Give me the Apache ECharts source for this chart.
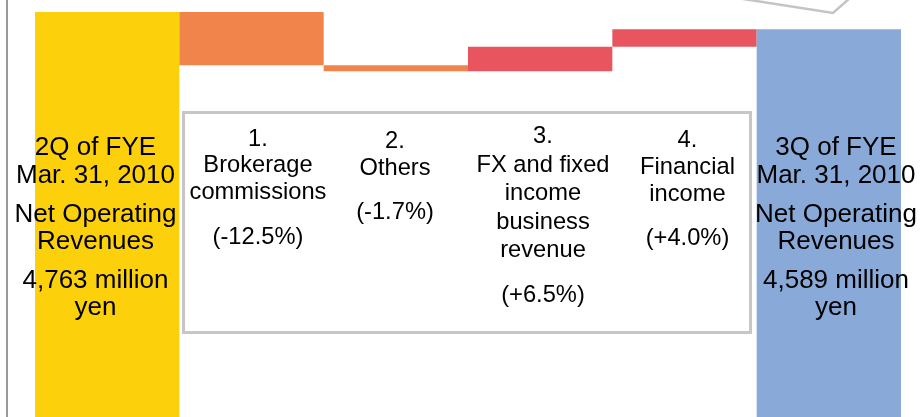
<!DOCTYPE html>
<html>
<head>
<meta charset="utf-8">
<script src="https://cdn.jsdelivr.net/npm/echarts@6/dist/echarts.min.js"></script>
<style>
html,body{margin:0;padding:0;background:#fff;}
#c{width:922px;height:417px;}
</style>
</head>
<body>
<div id="c"></div>
<script>
// ---- data ----
const categories = ['2Q of FYE Mar. 31, 2010', 'Brokerage commissions', 'Others', 'FX and fixed income business revenue', 'Financial income', '3Q of FYE Mar. 31, 2010'];
const startValue = 4763;
const changeValues = [-535, -60, 245, 176];
const endValue = 4589;
const startLabel = ['2Q of FYE', 'Mar. 31, 2010', 'Net Operating', 'Revenues', '4,763 million', 'yen'];
const endLabel = ['3Q of FYE', 'Mar. 31, 2010', 'Net Operating', 'Revenues', '4,589 million', 'yen'];
const itemLabels = [
  ['1.', 'Brokerage', 'commissions', '(-12.5%)'],
  ['2.', 'Others', '(-1.7%)'],
  ['3.', 'FX and fixed', 'income', 'business', 'revenue', '(+6.5%)'],
  ['4.', 'Financial', 'income', '(+4.0%)']
];

// ---- waterfall build ----
const baseVals = [0];
const barVals = [startValue];
let running = startValue;
changeValues.forEach(function (v) {
  if (v < 0) { running += v; baseVals.push(running); barVals.push(-v); }
  else { baseVals.push(running); running += v; barVals.push(v); }
});
baseVals.push(0);
barVals.push(endValue);

const colors = ['#FCD00A', '#F0844B', '#F0844B', '#E9555F', '#E9555F', '#89AAD9'];

// ---- layout (styles/positions only) ----
const FONT = '"Liberation Sans", Arial, sans-serif';
const outerLayout = [
  { x: 95.5, ys: [148, 176, 215, 242, 281, 308] },
  { x: 836, ys: [148, 176, 215, 242, 281, 308] }
];
const innerLayout = [
  { x: 258, ys: [139, 165, 192, 237] },
  { x: 395, ys: [141.5, 168, 212.5] },
  { x: 543, ys: [136, 165, 193.5, 222, 250.5, 295.5] },
  { x: 687.5, ys: [140.5, 167, 194.5, 238.5] }
];

const graphics = [
  { type: 'rect', shape: { x: 6, y: 0, width: 2, height: 417 }, style: { fill: '#9a9a9a' }, z: 10 },
  { type: 'rect', shape: { x: 183.5, y: 112.5, width: 567, height: 220 }, style: { fill: '#fff', stroke: '#c6c6c6', lineWidth: 3 }, z: 10 },
  { type: 'polyline', shape: { points: [[737, -2], [833, 13], [850, -2]] }, style: { stroke: '#c4c4c4', lineWidth: 2.5, fill: null }, z: 10 }
];

function addLines(lines, lay, size) {
  lines.forEach(function (t, i) {
    graphics.push({
      type: 'text', z: 20,
      style: { text: t, x: lay.x, y: lay.ys[i], align: 'center', verticalAlign: 'middle', fontSize: size, fontFamily: FONT, fill: '#000' }
    });
  });
}
addLines(startLabel, outerLayout[0], 26);
addLines(endLabel, outerLayout[1], 26);
itemLabels.forEach(function (l, i) { addLines(l, innerLayout[i], 23.7); });

const chart = echarts.init(document.getElementById('c'));
chart.setOption({
  animation: false,
  grid: { left: 35, right: 21, top: 0, bottom: 0, containLabel: false },
  xAxis: { type: 'category', data: categories, show: false },
  yAxis: { type: 'value', min: 689, max: 4884, show: false },
  series: [
    { type: 'bar', stack: 'w', data: baseVals, barCategoryGap: '0%', itemStyle: { color: 'transparent' }, silent: true },
    { type: 'bar', stack: 'w', barCategoryGap: '0%',
      data: barVals.map(function (v, i) { return { value: v, itemStyle: { color: colors[i] } }; }) }
  ],
  graphic: graphics
});
</script>
</body>
</html>
